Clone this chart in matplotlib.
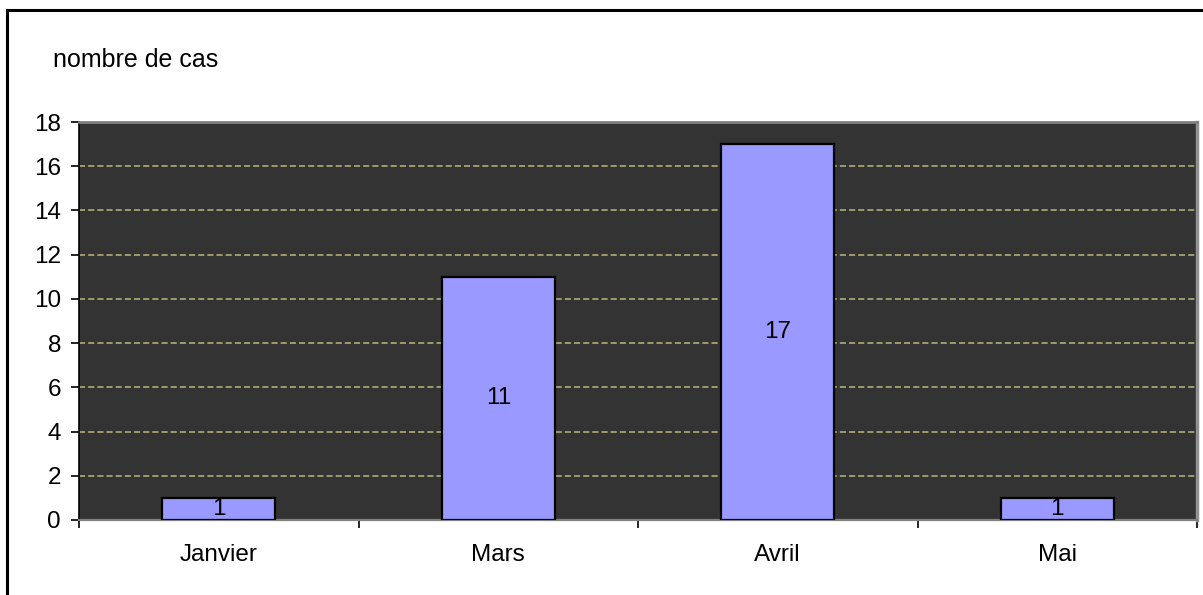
import matplotlib
matplotlib.use('Agg')
import matplotlib.pyplot as plt
from matplotlib.patches import Rectangle

plt.rcParams['font.family'] = ['Liberation Sans', 'DejaVu Sans']

# data
mois = ['Janvier', 'Mars', 'Avril', 'Mai']
cas = [1, 11, 17, 1]
yticks = [0, 2, 4, 6, 8, 10, 12, 14, 16, 18]

W, H = 1203, 595
FS = 17.5
fig = plt.figure(figsize=(W / 100, H / 100), dpi=100)
ax = fig.add_axes([79 / W, 1 - 520 / H, (1197 - 79) / W, (520 - 122) / H])
ax.set_facecolor('#333333')

x = list(range(len(mois)))
bars = ax.bar(x, cas, width=0.405, color='#9999ff', edgecolor='black', linewidth=1.6, zorder=3)
for b, v in zip(bars, cas):
    ax.text(b.get_x() + b.get_width() / 2, v / 2, str(v), ha='center', va='center',
            fontsize=FS, color='black', zorder=4)

ax.set_ylim(0, 18)
ax.set_yticks(yticks)
ax.set_yticklabels([str(t) for t in yticks], fontsize=FS)
ax.yaxis.grid(True, color='#b8b87c', linestyle=(0, (4, 2)), linewidth=1.1, zorder=1)
ax.set_axisbelow(True)

ax.set_xlim(-0.5, len(mois) - 0.5)
ax.set_xticks([i - 0.5 for i in range(len(mois) + 1)])
ax.set_xticklabels([])
ax.set_xticks(x, minor=True)
ax.set_xticklabels(mois, minor=True, fontsize=FS)
ax.tick_params(axis='x', which='major', direction='out', length=6, width=1.2, color='black')
ax.tick_params(axis='x', which='minor', length=0, pad=17)
ax.tick_params(axis='y', direction='out', length=6, width=1.2, color='black', pad=7)

ax.spines['left'].set_color('black')
ax.spines['left'].set_linewidth(1.2)
ax.spines['bottom'].set_color('#808080')
ax.spines['bottom'].set_linewidth(1.6)
ax.spines['top'].set_color('#808080')
ax.spines['top'].set_linewidth(2)
ax.spines['right'].set_color('#909090')
ax.spines['right'].set_linewidth(2.5)

fig.text(53 / W, 1 - 60 / H, 'nombre de cas', fontsize=18, ha='left', va='center')

# cadre du graphique (coupé à droite et en bas)
fig.patches.append(Rectangle((7 / W, -0.1), 1.2, 1.1 - 10 / H, transform=fig.transFigure,
                             fill=False, edgecolor='black', linewidth=2.2))

fig.savefig('out.png', dpi=100, facecolor='white')
